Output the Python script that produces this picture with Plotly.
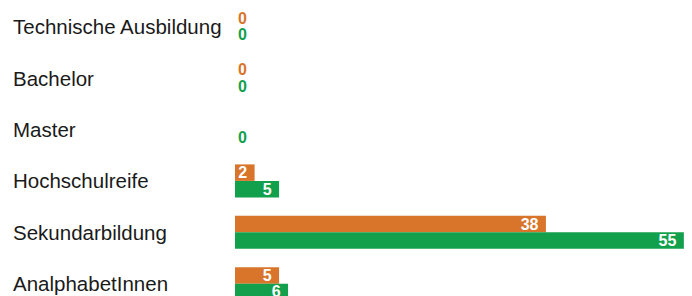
import plotly.graph_objects as go

categories = ["Technische Ausbildung", "Bachelor", "Master", "Hochschulreife",
              "Sekundarbildung", "AnalphabetInnen"]
orange_values = [0, 0, None, 2.4, 38.1, 5.4]
green_values = [0, 0, 0, 5.4, 55.0, 6.5]
orange_labels = ["0", "0", "", "2", "38", "5"]
green_labels = ["0", "0", "0", "5", "55", "6"]

ORANGE = "#D8752A"
GREEN = "#13A04C"
FONT = "Liberation Sans, Arial, sans-serif"

fig = go.Figure()
for vals, labels, color, name in [
    (orange_values, orange_labels, ORANGE, "Serie 1"),
    (green_values, green_labels, GREEN, "Serie 2"),
]:
    positions = ["outside" if v == 0 else "inside" for v in vals]
    fig.add_trace(go.Bar(
        y=categories, x=vals, orientation="h", name=name,
        marker=dict(color=color, line=dict(width=0)),
        text=labels, texttemplate="%{text}\u00a0",
        textposition=positions, insidetextanchor="end",
        constraintext="none",
        textfont=dict(size=16, family=FONT, weight="bold", color=color),
        insidetextfont=dict(color="white", size=16, family=FONT, weight="bold"),
        outsidetextfont=dict(color=color, size=16, family=FONT, weight="bold"),
        textangle=0, cliponaxis=True, hoverinfo="skip",
    ))

step = 51.4
top_center = 26.7
H = 296
W = 692
L = 235
y_top = -top_center / step
y_bot = (H - top_center) / step

for c in categories:
    fig.add_annotation(
        x=(11 - L) / (W - L), xref="paper", y=c, yref="y",
        text=c, showarrow=False, xanchor="left", yanchor="middle",
        font=dict(size=20.5, color="#1a1a1a", family=FONT),
    )

fig.update_layout(
    width=W, height=H,
    margin=dict(l=L, r=0, t=0, b=0, pad=0),
    barmode="group", bargap=0.358, bargroupgap=0,
    showlegend=False,
    plot_bgcolor="white", paper_bgcolor="white",
    xaxis=dict(range=[0, 56], visible=False, fixedrange=True),
    yaxis=dict(range=[y_bot, y_top], showticklabels=False, showgrid=False,
               zeroline=False, showline=False, ticks="", fixedrange=True),
    uniformtext=dict(mode=False),
)

fig.write_html(
    "out.html",
    config={"displayModeBar": False},
    post_script="document.body.style.margin='0';document.body.style.padding='0';",
)
